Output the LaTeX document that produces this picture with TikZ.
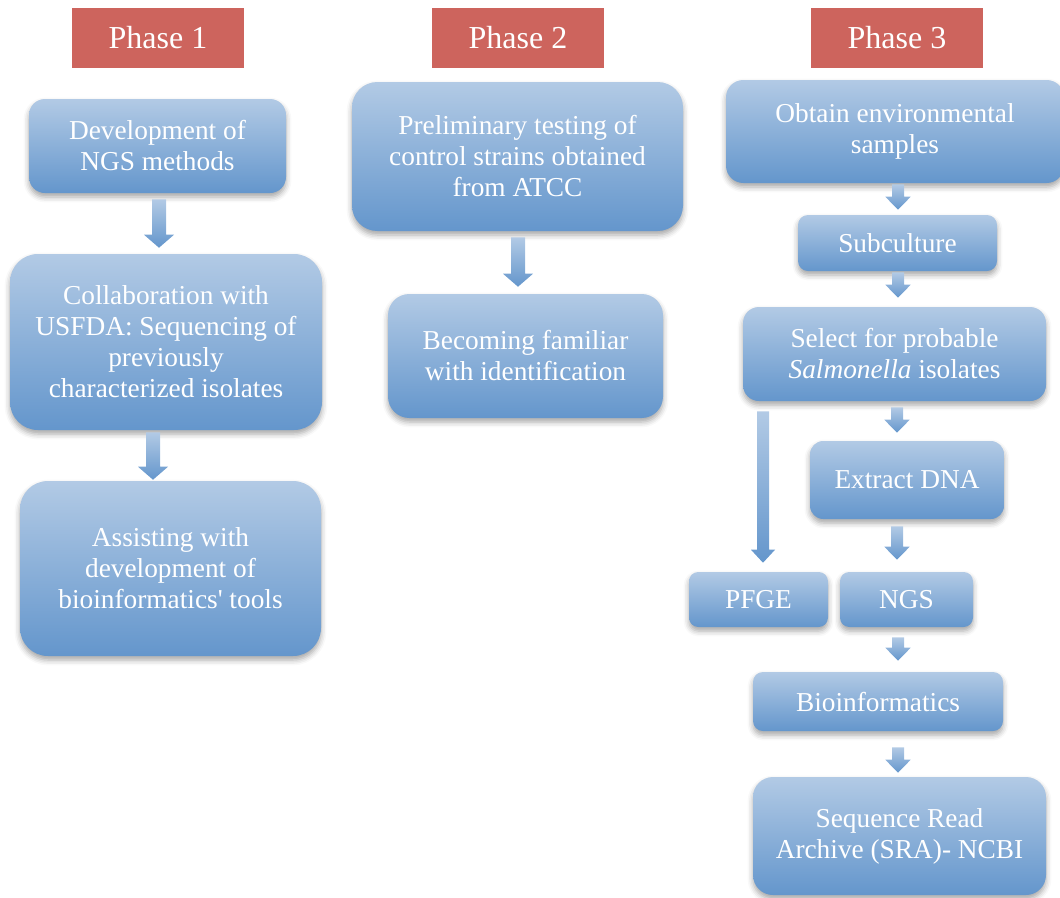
\documentclass[tikz,border=0pt]{standalone}
\usepackage{fontspec}
\setmainfont{Liberation Serif}
\usetikzlibrary{calc,shadows.blur}

\definecolor{phasered}{RGB}{205,100,93}
\definecolor{boxtop}{RGB}{178,202,229}
\definecolor{boxbottom}{RGB}{100,150,204}

\tikzset{
  phase/.style={fill=phasered, text=white, minimum width=129pt, minimum height=45pt,
    font=\fontsize{24}{28}\selectfont},
  boxsize/.style args={#1x#2}{minimum width=#1*0.75pt, minimum height=#2*0.75pt},
  stepbox/.style={rounded corners=#1, top color=boxtop, bottom color=boxbottom,
    text=white, align=center, inner sep=2pt, font=\fontsize{20.5}{23.25}\selectfont,
    blur shadow={shadow xshift=0pt, shadow yshift=-3pt, shadow blur radius=4pt, shadow opacity=35}},
  stepbox/.default=8pt,
  arrowshade/.style={top color=boxtop, bottom color=boxbottom}
}

% block arrow: shaft half width, head half width, from, to
\newcommand{\flowarrow}[4]{%
  \path[arrowshade] let \p1=(#3), \p2=(#4) in
    (\x1-#1,\y1) -- (\x1+#1,\y1) -- (\x1+#1,\y2+9.75pt) -- (\x1+#2,\y2+9.75pt)
    -- (\x1,\y2) -- (\x1-#2,\y2+9.75pt) -- (\x1-#1,\y2+9.75pt) -- cycle;}

\begin{document}
\begin{tikzpicture}[x=0.75pt,y=-0.75pt]
\useasboundingbox (0,0) rectangle (1060,897);

\node[phase] (ph1) at (158,38) {Phase 1};
\node[phase] (ph2) at (518,38) {Phase 2};
\node[phase] (ph3) at (897,38) {Phase 3};

% phase 1
\node[stepbox=12pt, boxsize=257x94] (dev) at (157.5,146) {Development of\\NGS methods};
\node[stepbox=21pt, boxsize=312x176] (collab) at (166,342)
  {Collaboration with\\USFDA: Sequencing of\\previously\\characterized isolates};
\node[stepbox=21pt, boxsize=301x175] (assist) at (170.5,568.5)
  {Assisting with\\development of\\bioinformatics\textquotesingle\ tools};

\flowarrow{5.25pt}{11.25pt}{$(dev.south)+(1.5,6)$}{$(collab.north)+(0,-6)$}
\flowarrow{5.25pt}{11.25pt}{$(collab.south)+(-13,2)$}{$(assist.north)+(0,-1)$}

% phase 2
\node[stepbox=19pt, boxsize=331x149] (prelim) at (517.5,156.5)
  {Preliminary testing of\\control strains obtained\\from ATCC};
\node[stepbox=16pt, boxsize=275x124] (familiar) at (525.5,356)
  {Becoming familiar\\with identification};

\flowarrow{5.25pt}{11.25pt}{$(prelim.south)+(0.5,6)$}{$(familiar.north)+(0,-7)$}

% phase 3
\node[stepbox=13pt, boxsize=338x103] (obtain) at (895,131.5)
  {Obtain environmental\\samples};
\node[stepbox=7.5pt, boxsize=199x56] (subcult) at (897.5,243) {Subculture};
\node[stepbox=12pt, boxsize=303x94] (select) at (894.5,354)
  {Select for probable\\\textit{Salmonella} isolates};
\node[stepbox=10pt, boxsize=194x78] (extract) at (907,480) {Extract DNA};
\node[stepbox=7pt, boxsize=139x55] (pfge) at (758.5,599.5) {PFGE};
\node[stepbox=7pt, boxsize=133x55] (ngs) at (906.5,599.5) {NGS};
\node[stepbox=7.5pt, boxsize=250x59] (bioinf) at (878,701.5) {Bioinformatics};
\node[stepbox=15pt, boxsize=293x118] (sra) at (899.5,836)
  {Sequence Read\\Archive (SRA)- NCBI};

\flowarrow{4.5pt}{9.5pt}{$(obtain.south)+(3,1)$}{$(subcult.north)+(0,-5)$}
\flowarrow{4.5pt}{9.5pt}{$(subcult.south)+(0.5,1)$}{$(select.north)+(0,-9)$}
\flowarrow{4.5pt}{9.5pt}{$(select.south)+(2.5,6)$}{$(extract.north)+(0,-8)$}
\flowarrow{4.5pt}{9pt}{$(select.south -| pfge.north)+(4.5,10)$}{$(pfge.north)+(0,-9)$}
\flowarrow{4.5pt}{9.5pt}{$(extract.south)+(-10,7)$}{$(ngs.north)+(0,-12)$}
\flowarrow{4.5pt}{9.5pt}{$(ngs.south)+(-8.5,10)$}{$(bioinf.north)+(0,-11)$}
\flowarrow{4.5pt}{9.5pt}{$(bioinf.south)+(20,16)$}{$(sra.north)+(0,-4)$}

\end{tikzpicture}
\end{document}
